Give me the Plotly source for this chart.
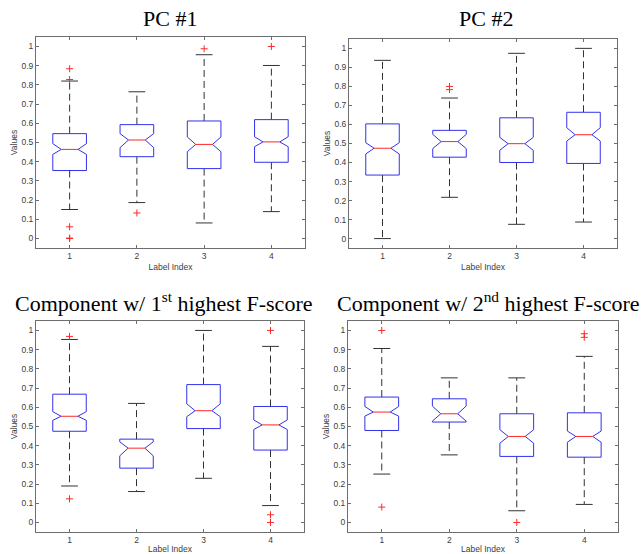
import plotly.graph_objects as go

# ---------------- data ----------------
label_index = [1, 2, 3, 4]
x_tick_labels = ["1", "2", "3", "4"]
y_tick_vals = [0, 0.1, 0.2, 0.3, 0.4, 0.5, 0.6, 0.7, 0.8, 0.9, 1.0]
y_tick_labels = ["0", "0.1", "0.2", "0.3", "0.4", "0.5", "0.6", "0.7", "0.8", "0.9", "1"]

titles = ["PC #1", "PC #2",
          "Component w/ 1<sup>st</sup> highest F-score",
          "Component w/ 2<sup>nd</sup> highest F-score"]

# PC #1
pc1_q1 = [0.354, 0.426, 0.364, 0.397]
pc1_med = [0.464, 0.513, 0.490, 0.503]
pc1_q3 = [0.546, 0.593, 0.612, 0.619]
pc1_notch_lo = [0.438, 0.473, 0.452, 0.478]
pc1_notch_hi = [0.494, 0.546, 0.529, 0.530]
pc1_whisk_lo = [0.151, 0.187, 0.081, 0.140]
pc1_whisk_hi = [0.820, 0.764, 0.957, 0.901]
pc1_outliers = [[0.884, 0.828, 0.061, 0.0, 0.002], [0.133], [0.988], [1.0]]

# PC #2
pc2_q1 = [0.334, 0.428, 0.400, 0.395]
pc2_med = [0.475, 0.510, 0.499, 0.546]
pc2_q3 = [0.603, 0.569, 0.635, 0.664]
pc2_notch_lo = [0.445, 0.473, 0.464, 0.513]
pc2_notch_hi = [0.504, 0.548, 0.532, 0.583]
pc2_whisk_lo = [0.0, 0.217, 0.075, 0.087]
pc2_whisk_hi = [0.937, 0.739, 0.974, 1.0]
pc2_outliers = [[], [0.800, 0.783], [], []]

# Component w/ 1st highest F-score
f1_q1 = [0.475, 0.283, 0.489, 0.377]
f1_med = [0.553, 0.387, 0.582, 0.508]
f1_q3 = [0.668, 0.434, 0.718, 0.604]
f1_notch_lo = [0.532, 0.347, 0.551, 0.484]
f1_notch_hi = [0.577, 0.420, 0.618, 0.534]
f1_whisk_lo = [0.190, 0.161, 0.230, 0.088]
f1_whisk_hi = [0.953, 0.620, 1.0, 0.917]
f1_outliers = [[0.969, 0.123], [], [], [1.0, 0.040, 0.0]]

# Component w/ 2nd highest F-score
f2_q1 = [0.479, 0.523, 0.344, 0.340]
f2_med = [0.575, 0.566, 0.448, 0.448]
f2_q3 = [0.653, 0.644, 0.566, 0.571]
f2_notch_lo = [0.554, 0.528, 0.413, 0.418]
f2_notch_hi = [0.604, 0.606, 0.483, 0.476]
f2_whisk_lo = [0.252, 0.352, 0.061, 0.094]
f2_whisk_hi = [0.906, 0.753, 0.753, 0.865]
f2_outliers = [[1.0, 0.080], [], [0.0], [0.983, 0.964]]

panels = [
    (pc1_q1, pc1_med, pc1_q3, pc1_notch_lo, pc1_notch_hi, pc1_whisk_lo, pc1_whisk_hi, pc1_outliers),
    (pc2_q1, pc2_med, pc2_q3, pc2_notch_lo, pc2_notch_hi, pc2_whisk_lo, pc2_whisk_hi, pc2_outliers),
    (f1_q1, f1_med, f1_q3, f1_notch_lo, f1_notch_hi, f1_whisk_lo, f1_whisk_hi, f1_outliers),
    (f2_q1, f2_med, f2_q3, f2_notch_lo, f2_notch_hi, f2_whisk_lo, f2_whisk_hi, f2_outliers),
]

# ---------------- layout geometry (pixels) ----------------
W, H = 643, 554
boxes_px = [
    (36, 305, 37, 249),
    (349, 617, 39, 249),
    (36, 304, 322, 534),
    (348, 618, 322, 534),
]
title_pos = [(170, 19), (486, 19), (163, 303), (488, 303)]

BOX_HALF = 0.25
NOTCH_HALF = 0.125
CAP_HALF = 0.125
BLUE = "rgb(50,50,235)"
RED = "rgb(255,40,40)"
WHISK = "rgb(50,50,50)"
FRAME = "rgb(110,110,110)"
TXT = "rgb(60,60,60)"
FONT = "Liberation Sans, Arial"

fig = go.Figure()
layout = dict(width=W, height=H, margin=dict(l=0, r=0, t=0, b=0),
              paper_bgcolor="white", plot_bgcolor="white", showlegend=False,
              annotations=[])

for k, (q1, med, q3, nlo, nhi, wlo, whi, outl) in enumerate(panels):
    sfx = "" if k == 0 else str(k + 1)
    xa, ya = "x" + sfx, "y" + sfx
    l, r, t, b = boxes_px[k]
    layout["xaxis" + sfx] = dict(
        domain=[l / W, r / W], anchor=ya, range=[0.5, 4.5],
        tickvals=label_index, ticktext=x_tick_labels,
        ticks="inside", ticklen=3, tickcolor=FRAME, mirror="ticks",
        showline=True, linecolor=FRAME, linewidth=1, showgrid=False, zeroline=False,
        tickfont=dict(family=FONT, size=8.5, color=TXT),
        title=dict(text="Label Index", standoff=3,
                   font=dict(family=FONT, size=8.5, color=TXT)),
        fixedrange=True)
    layout["yaxis" + sfx] = dict(
        domain=[1 - b / H, 1 - t / H], anchor=xa, range=[-0.05, 1.05],
        tickvals=y_tick_vals, ticktext=y_tick_labels,
        ticks="inside", ticklen=3, tickcolor=FRAME, mirror="ticks",
        showline=True, linecolor=FRAME, linewidth=1, showgrid=False, zeroline=False,
        tickfont=dict(family=FONT, size=8.5, color=TXT),
        title=dict(text="Values", standoff=2,
                   font=dict(family=FONT, size=8.5, color=TXT)),
        fixedrange=True)

    for i, xc in enumerate(label_index):
        # whiskers (dashed)
        fig.add_trace(go.Scatter(
            x=[xc, xc, None, xc, xc], y=[q3[i], whi[i], None, q1[i], wlo[i]],
            mode="lines", line=dict(color=WHISK, width=1, dash="7px,4px"),
            xaxis=xa, yaxis=ya, hoverinfo="skip"))
        # caps
        fig.add_trace(go.Scatter(
            x=[xc - CAP_HALF, xc + CAP_HALF, None, xc - CAP_HALF, xc + CAP_HALF],
            y=[whi[i], whi[i], None, wlo[i], wlo[i]],
            mode="lines", line=dict(color=WHISK, width=1),
            xaxis=xa, yaxis=ya, hoverinfo="skip"))
        # notched box outline
        bx = [xc - BOX_HALF, xc - BOX_HALF, xc - NOTCH_HALF, xc - BOX_HALF, xc - BOX_HALF,
              xc + BOX_HALF, xc + BOX_HALF, xc + NOTCH_HALF, xc + BOX_HALF, xc + BOX_HALF,
              xc - BOX_HALF]
        by = [q1[i], nlo[i], med[i], nhi[i], q3[i],
              q3[i], nhi[i], med[i], nlo[i], q1[i], q1[i]]
        fig.add_trace(go.Scatter(
            x=bx, y=by, mode="lines", line=dict(color=BLUE, width=1),
            xaxis=xa, yaxis=ya, hoverinfo="skip"))
        # red median
        fig.add_trace(go.Scatter(
            x=[xc - NOTCH_HALF, xc + NOTCH_HALF], y=[med[i], med[i]],
            mode="lines", line=dict(color=RED, width=1),
            xaxis=xa, yaxis=ya, hoverinfo="skip"))
        if outl[i]:
            fig.add_trace(go.Scatter(
                x=[xc] * len(outl[i]), y=outl[i], mode="markers",
                marker=dict(symbol="cross-thin", size=5,
                            line=dict(color=RED, width=1)),
                xaxis=xa, yaxis=ya, hoverinfo="skip"))

    tx, ty = title_pos[k]
    layout["annotations"].append(dict(
        text=titles[k], x=tx / W, y=1 - ty / H, xref="paper", yref="paper",
        xanchor="center", yanchor="middle", showarrow=False,
        font=dict(family="Liberation Serif, Times New Roman", size=22, color="black")))

fig.update_layout(**layout)
fig.write_html("out.html", config={"displayModeBar": False},
               post_script="document.body.style.margin='0';document.body.style.overflow='hidden';")
